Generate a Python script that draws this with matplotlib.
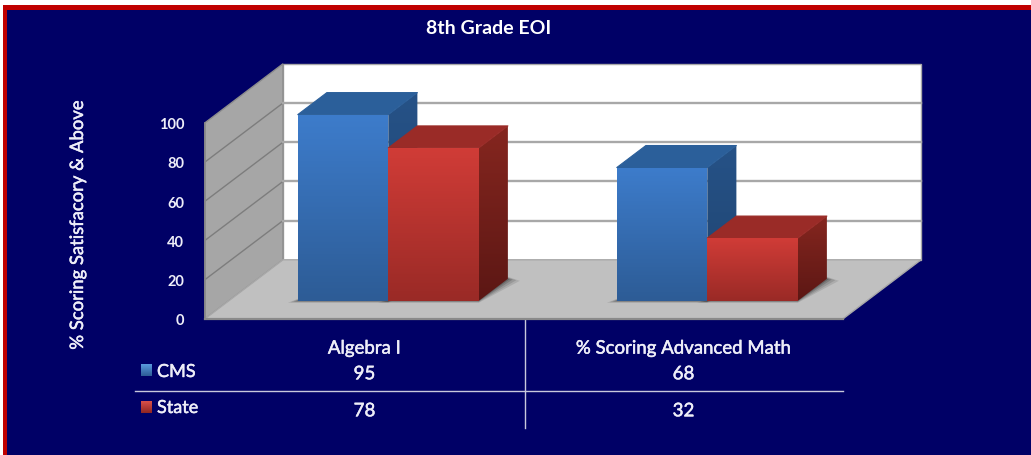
import numpy as np
import matplotlib
matplotlib.use('Agg')
import matplotlib.pyplot as plt
import matplotlib.patheffects as pe
from matplotlib.colors import LinearSegmentedColormap
from matplotlib.patches import Polygon, Rectangle

# data
categories = ['Algebra I', '% Scoring Advanced Math']
series_names = ['CMS', 'State']
cms_values = [95, 68]
state_values = [78, 32]
y_ticks = [0, 20, 40, 60, 80, 100]

NAVY = '#000066'
TXT = '#eeeef8'
plt.rcParams['font.family'] = ['Lato', 'DejaVu Sans']
THICK = [pe.withStroke(linewidth=0.35, foreground=TXT)]

# depth of the floor in axis units, and where the bars sit on it
DEPTH_X = 78 / 319
DEPTH_Y = 59 / 1.96
BAR_FRONT = 0.305
BAR_BACK = 0.678
BAR_W = 90.5 / 319


def proj(x, y, d):
    return (x + d * DEPTH_X, y + d * DEPTH_Y)


def grad_poly(ax, pts, top, bottom, z):
    # polygon filled with a vertical gradient
    xlim, ylim = ax.get_xlim(), ax.get_ylim()
    xs = [p[0] for p in pts]
    ys = [p[1] for p in pts]
    cmap = LinearSegmentedColormap.from_list('g', [top, bottom])
    im = ax.imshow(np.linspace(0, 1, 64).reshape(-1, 1), cmap=cmap, aspect='auto',
                   extent=(min(xs), max(xs), min(ys), max(ys)), origin='upper',
                   zorder=z, interpolation='bilinear')
    patch = Polygon(pts, closed=True, transform=ax.transData, fc='none', ec='none', clip_on=False)
    ax.add_patch(patch)
    patch.set_clip_on(False)
    im.set_clip_path(patch)
    # images are cut to the axes box otherwise, bars stand above y=100 at depth
    im.set_clip_box(ax.figure.bbox)
    ax.set_xlim(xlim)
    ax.set_ylim(ylim)


def draw_bar(ax, x0, value, front, side, top_col, z):
    x1 = x0 + BAR_W
    f0, f1 = proj(x0, 0, BAR_FRONT), proj(x1, 0, BAR_FRONT)
    ft0, ft1 = proj(x0, value, BAR_FRONT), proj(x1, value, BAR_FRONT)
    b1, bt1 = proj(x1, 0, BAR_BACK), proj(x1, value, BAR_BACK)
    bt0 = proj(x0, value, BAR_BACK)
    # soft shadow on the floor
    for grow, alpha in [(5, 0.10), (3.5, 0.12), (2, 0.16), (0.8, 0.2)]:
        gx = grow / 319
        gy = grow / 1.96 * 0.4
        sh = [(f0[0] - gx * 2, f0[1] - gy), (f1[0], f1[1] - gy),
              (b1[0] + gx * 2.4, b1[1] - gy), (b1[0], b1[1] + gy), (f0[0], f0[1] + gy)]
        ax.add_patch(Polygon(sh, closed=True, fc='black', ec='none', alpha=alpha, zorder=z - 0.5))
    grad_poly(ax, [f1, b1, bt1, ft1], side[0], side[1], z)
    ax.add_patch(Polygon([ft0, ft1, bt1, bt0], closed=True, fc=top_col, ec=top_col, lw=0.8,
                         joinstyle='round', zorder=z + 0.1, clip_on=False))
    grad_poly(ax, [f0, f1, ft1, ft0], front[0], front[1], z + 0.2)


fig = plt.figure(figsize=(10.31, 4.56), dpi=100, facecolor='white')

# background and frame, in pixels
bg = fig.add_axes([0, 0, 1, 1])
bg.set_xlim(0, 1031)
bg.set_ylim(456, 0)
bg.axis('off')
bg.add_patch(Rectangle((3, 6), 1028, 450, fc='#c00000', ec='none'))
bg.add_patch(Rectangle((7, 11), 1024, 445, fc=NAVY, ec='none'))

# main axes is the front plane of the 3d box
ax = fig.add_axes([205 / 1031, (456 - 319.8) / 456, 638 / 1031, 196 / 456])
ax.set_xlim(0, 2)
ax.set_ylim(0, 100)
ax.patch.set_visible(False)
for s in ax.spines.values():
    s.set_visible(False)

# walls and floor
back = [proj(0, 0, 1), proj(2, 0, 1), proj(2, 100, 1), proj(0, 100, 1)]
left = [proj(0, 0, 0), proj(0, 0, 1), proj(0, 100, 1), proj(0, 100, 0)]
floor = [proj(0, 0, 0), proj(2, 0, 0), proj(2, 0, 1), proj(0, 0, 1)]
ax.add_patch(Polygon(back, closed=True, fc='white', ec='#a8a8a8', lw=1, zorder=1, clip_on=False))
ax.add_patch(Polygon(left, closed=True, fc='#a6a6a6', ec='#8c8c8c', lw=1, zorder=1, clip_on=False))
ax.add_patch(Polygon(floor, closed=True, fc='#c0c0c0', ec='#a8a8a8', lw=1, zorder=1.5, clip_on=False))
ax.plot([0, 2], [0, 0], color='#8a8a8a', lw=1.6, zorder=1.6, clip_on=False)
ax.plot([0, 0], [0, 100], color='#8a8a8a', lw=1.2, zorder=1.6, clip_on=False)
for v in y_ticks[1:-1]:
    p0, p1, p2 = proj(0, v, 0), proj(0, v, 1), proj(2, v, 1)
    ax.plot([p0[0], p1[0]], [p0[1], p1[1]], color='#7d7d7d', lw=1, zorder=1.2, clip_on=False)
    ax.plot([p1[0], p2[0]], [p1[1], p2[1]], color='#a8a8a8', lw=1.7, zorder=1.2, clip_on=False)

# bars
blue_front = ('#3d7ccb', '#2d5c96')
blue_side = ('#265287', '#1f4470')
red_front = ('#d03c37', '#9a2a26')
red_side = ('#85261f', '#5c1714')
for i in range(len(categories)):
    mid = i + 0.5
    draw_bar(ax, mid - BAR_W, cms_values[i], blue_front, blue_side, '#2b5f9a', 3 + i)
    draw_bar(ax, mid, state_values[i], red_front, red_side, '#9a2b27', 3.5 + i)

# axis text
ax.set_yticks(y_ticks)
ax.set_yticklabels([str(v) for v in y_ticks], fontweight='bold', fontsize=10.5, color=TXT)
ax.tick_params(axis='y', length=0, pad=15)
ax.set_xticks([0.5, 1.5])
ax.set_xticklabels(categories, fontsize=13.4, color=TXT, path_effects=THICK)
ax.tick_params(axis='x', length=0, pad=15)
ax.set_ylabel('% Scoring Satisfacory & Above', fontsize=13.3, color=TXT, path_effects=THICK)
ax.yaxis.set_label_coords(-119 / 638, 0.48)
fig.text(489 / 1031, 1 - 28 / 456, '8th Grade EOI', ha='center', va='center',
         fontsize=14, fontweight='bold', color='white')

# data table below the chart
row_y = [374, 411]
name_y = [373, 409]
key_y = [365, 402]
rows = [cms_values, state_values]
key_cols = [('#5a9ade', '#2d5c96'), ('#d8504a', '#8f2622')]
for r in range(2):
    bg.text(157, name_y[r], series_names[r], ha='left', va='center', fontsize=13,
            color=TXT, path_effects=THICK)
    k_y = key_y[r]
    grad_poly(bg, [(141, k_y + 12), (152, k_y + 12), (152, k_y), (141, k_y)],
              key_cols[r][1], key_cols[r][0], 2)
    for c in range(2):
        ax.text(c + 0.5, (319 - row_y[r]) / 1.96, str(rows[r][c]), ha='center', va='center',
                fontsize=13.5, color=TXT, clip_on=False, path_effects=THICK)
bg.plot([135, 843], [392, 392], color='#c8c8dc', lw=1)
bg.plot([525, 525], [320, 429], color='#c8c8dc', lw=1)
bg.set_zorder(0)
ax.set_zorder(1)

fig.savefig('out.png', dpi=100, facecolor=fig.get_facecolor())
